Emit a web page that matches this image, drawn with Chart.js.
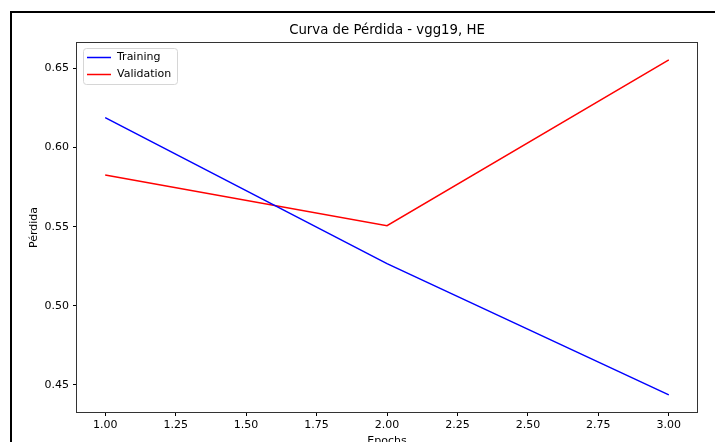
<!DOCTYPE html>
<html>
<head>
<meta charset="utf-8">
<script src="https://cdn.jsdelivr.net/npm/chart.js@4.4.1/dist/chart.umd.min.js"></script>
<style>
  html, body { margin: 0; padding: 0; background: #fff; overflow: hidden; }
  #wrap { position: relative; width: 715px; height: 470px; }
</style>
</head>
<body>
<div id="wrap"><canvas id="c" width="715" height="470"></canvas></div>
<script>
// Loss per epoch
const epochs = [1, 2, 3];
const trainingLoss = [0.6189, 0.5267, 0.4437];
const validationLoss = [0.5827, 0.5506, 0.6555];
const xTicks = [1.00, 1.25, 1.50, 1.75, 2.00, 2.25, 2.50, 2.75, 3.00];
const yTicks = [0.45, 0.50, 0.55, 0.60, 0.65];
const chartTitle = 'Curva de Pérdida - vgg19, HE';
const xTitle = 'Epochs';
const yTitle = 'Pérdida';
const seriesNames = ['Training', 'Validation'];

const FONT = 'DejaVu Sans';

// Outer figure frame (black lines on the left and top edges)
const framePlugin = {
  id: 'figureFrame',
  beforeDraw(chart) {
    const ctx = chart.ctx;
    ctx.save();
    ctx.fillStyle = '#fff';
    ctx.fillRect(0, 0, chart.width, chart.height);
    ctx.fillStyle = '#000';
    ctx.fillRect(10, 11, 2, chart.height);
    ctx.fillRect(10, 11, chart.width, 2);
    ctx.restore();
  }
};

// Axes box, title and in-plot legend
const decorPlugin = {
  id: 'decor',
  afterDraw(chart) {
    const ctx = chart.ctx;
    const a = chart.chartArea;
    ctx.save();
    // spines
    ctx.strokeStyle = '#333';
    ctx.lineWidth = 1;
    ctx.strokeRect(Math.round(a.left) - 0.5, Math.round(a.top) - 0.5,
                   Math.round(a.right - a.left) + 1, Math.round(a.bottom - a.top) + 1);
    // title
    ctx.fillStyle = '#000';
    ctx.font = '13.3px "' + FONT + '"';
    ctx.textAlign = 'center';
    ctx.textBaseline = 'middle';
    ctx.fillText(chartTitle, (a.left + a.right) / 2, 31);
    // legend
    const lx = a.left + 6, ly = a.top + 5, lw = 94, lh = 36;
    ctx.beginPath();
    ctx.roundRect(lx + 0.5, ly + 0.5, lw, lh, 3);
    ctx.fillStyle = 'rgba(255,255,255,0.8)';
    ctx.fill();
    ctx.strokeStyle = '#d6d6d6';
    ctx.lineWidth = 1;
    ctx.stroke();
    ctx.font = '11px "' + FONT + '"';
    ctx.textAlign = 'left';
    chart.data.datasets.forEach((ds, i) => {
      const y = ly + 9.5 + i * 17;
      ctx.strokeStyle = ds.borderColor;
      ctx.lineWidth = 1.5;
      ctx.beginPath();
      ctx.moveTo(lx + 4, y);
      ctx.lineTo(lx + 28, y);
      ctx.stroke();
      ctx.fillStyle = '#000';
      ctx.fillText(ds.label, lx + 34, y);
    });
    ctx.restore();
  }
};

new Chart(document.getElementById('c'), {
  type: 'line',
  data: {
    datasets: [
      { label: seriesNames[0], data: epochs.map((e, i) => ({ x: e, y: trainingLoss[i] })),
        borderColor: '#0000ff', borderWidth: 1.5, pointRadius: 0, tension: 0, fill: false },
      { label: seriesNames[1], data: epochs.map((e, i) => ({ x: e, y: validationLoss[i] })),
        borderColor: '#ff0000', borderWidth: 1.5, pointRadius: 0, tension: 0, fill: false }
    ]
  },
  options: {
    responsive: false,
    animation: false,
    layout: { padding: { left: 24, top: 43, right: 18, bottom: 0 } },
    plugins: { legend: { display: false }, title: { display: false }, tooltip: { enabled: false } },
    scales: {
      x: {
        type: 'linear',
        min: 0.9, max: 3.1,
        afterBuildTicks(s) { s.ticks = xTicks.map(v => ({ value: v })); },
        afterFit(s) { s.height = 58; },
        grid: { drawOnChartArea: false, drawTicks: true, tickLength: 4, tickColor: '#000', tickWidth: 1 },
        border: { display: false },
        ticks: { color: '#000', font: { family: FONT, size: 11 }, padding: 3, maxRotation: 0,
                 callback: v => Number(v).toFixed(2) },
        title: { display: true, text: xTitle, color: '#000', font: { family: FONT, size: 11 },
                 padding: { top: 0, bottom: 22 } }
      },
      y: {
        type: 'linear',
        min: 0.4329, max: 0.6661,
        afterBuildTicks(s) { s.ticks = yTicks.map(v => ({ value: v })); },
        afterFit(s) { s.width = 53; },
        grid: { drawOnChartArea: false, drawTicks: true, tickLength: 4, tickColor: '#000', tickWidth: 1 },
        border: { display: false },
        ticks: { color: '#000', font: { family: FONT, size: 11 }, padding: 4,
                 callback: v => Number(v).toFixed(2) },
        title: { display: true, text: yTitle, color: '#000', font: { family: FONT, size: 11 },
                 padding: { top: 4, bottom: 0 } }
      }
    }
  },
  plugins: [framePlugin, decorPlugin]
});
</script>
</body>
</html>
